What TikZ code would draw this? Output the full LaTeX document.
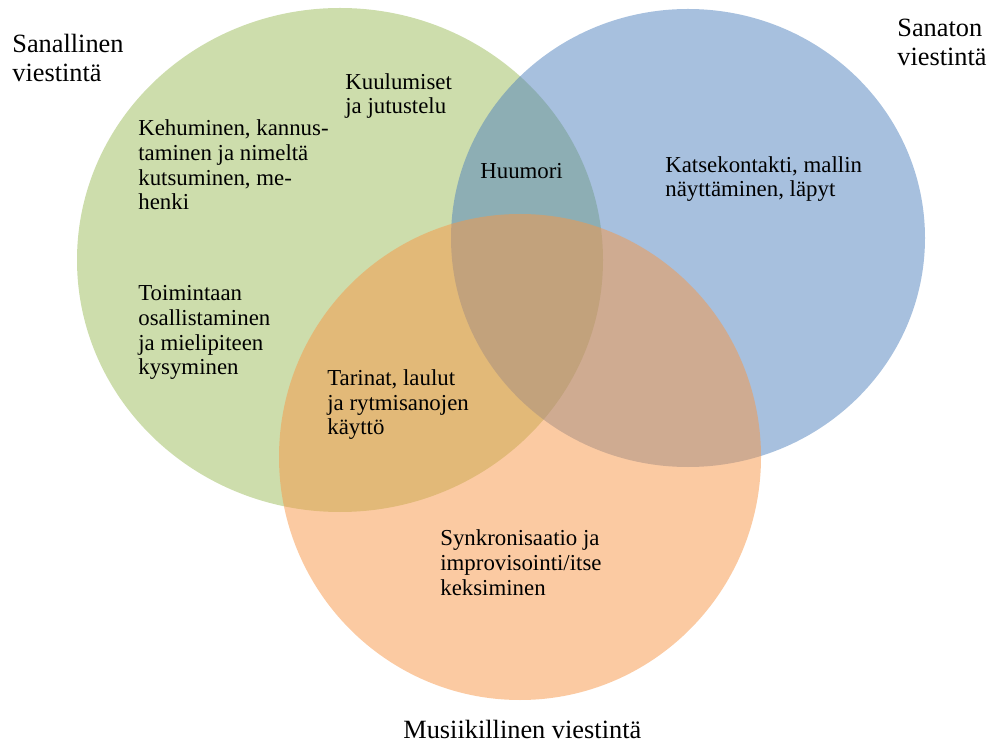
\documentclass[tikz,border=0pt]{standalone}
\usepackage{fontspec}
\setmainfont{Liberation Serif}
\usetikzlibrary{positioning}

\definecolor{vihrea}{HTML}{9BBB59}
\definecolor{sininen}{HTML}{4F81BD}
\definecolor{oranssi}{HTML}{F79646}

\tikzset{
  alue/.style={draw=none, fill opacity=0.5},
  teksti/.style={anchor=base west, align=left, inner sep=0pt, font=\fontsize{13}{14.2}\selectfont},
  otsikko/.style={anchor=base west, align=left, inner sep=0pt, font=\fontsize{15}{16.6}\selectfont}
}

\begin{document}
\begin{tikzpicture}[x=0.02cm, y=-0.02cm]
\useasboundingbox (0,0) rectangle (994,746);

\fill[alue, vihrea] (340,260) ellipse [x radius=263, y radius=252];
\fill[alue, sininen] (688,238) ellipse [x radius=237, y radius=229];
\fill[alue, oranssi] (520,457) ellipse [x radius=241, y radius=243];

% base = viimeisen rivin perusviiva
\node[otsikko](sanallinen) at (12,82) {Sanallinen\\viestintä};
\node[otsikko](sanaton) at (897,66) {Sanaton\\viestintä};
\node[otsikko](musiikillinen) at (403,738) {Musiikillinen viestintä};

\node[teksti](kuulumiset) at (345,114) {Kuulumiset\\ja jutustelu};
\node[teksti](kehuminen) at (138,210) {Kehuminen, kannus-\\taminen ja nimeltä\\kutsuminen, me-\\henki};
\node[teksti](huumori) at (480,179) {Huumori};
\node[teksti](katsekontakti) at (665,197) {Katsekontakti, mallin\\näyttäminen, läpyt};
\node[teksti](toimintaan) at (138,375) {Toimintaan\\osallistaminen\\ja mielipiteen\\kysyminen};
\node[teksti](tarinat) at (327,435) {Tarinat, laulut\\ja rytmisanojen\\käyttö};
\node[teksti](synkronisaatio) at (440,595) {Synkronisaatio ja\\improvisointi/itse\\keksiminen};
\end{tikzpicture}
\end{document}
